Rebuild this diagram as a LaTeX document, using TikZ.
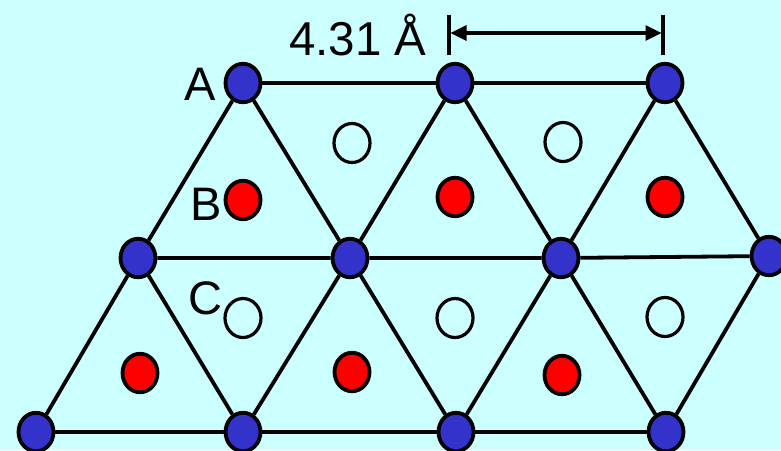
\documentclass[tikz,border=0pt]{standalone}
\usepackage{fontspec}
\setmainfont{Liberation Sans}
\usetikzlibrary{shapes.geometric,arrows.meta}
\definecolor{bgcyan}{RGB}{204,255,255}
\definecolor{atomblue}{RGB}{51,51,204}
\definecolor{atomred}{RGB}{255,0,0}
\begin{document}
\begin{tikzpicture}[x=1pt,y=-1pt,
  atomA/.style={ellipse,draw=black,line width=3.8pt,fill=atomblue,minimum width=35pt,minimum height=38.5pt,inner sep=0pt},
  atomB/.style={ellipse,draw=black,line width=3.8pt,fill=atomred,minimum width=35pt,minimum height=38.5pt,inner sep=0pt},
  atomC/.style={ellipse,draw=black,line width=3.2pt,minimum width=36pt,minimum height=39pt,inner sep=0pt},
  bond/.style={line width=3.8pt,black},
  lbl/.style={font=\fontsize{47}{50}\selectfont,inner sep=0pt,anchor=base}]
\fill[bgcyan] (0,0) rectangle (781,450);
\useasboundingbox (0,0) rectangle (781,450);
% A-sites (blue)
\node[atomA] (t1) at (243,83) {};
\node[atomA] (t2) at (455,83) {};
\node[atomA] (t3) at (665,83) {};
\node[atomA] (m1) at (138,258) {};
\node[atomA] (m2) at (350,258) {};
\node[atomA] (m3) at (561,258) {};
\node[atomA] (m4) at (769,256) {};
\node[atomA] (b1) at (36,432) {};
\node[atomA] (b2) at (243,432) {};
\node[atomA] (b3) at (456,432) {};
\node[atomA] (b4) at (666,432) {};
% B-sites (red)
\node[atomB] (r1) at (243,200) {};
\node[atomB] (r2) at (455,197) {};
\node[atomB] (r3) at (665,197) {};
\node[atomB] (r4) at (140,373) {};
\node[atomB] (r5) at (352,372) {};
\node[atomB] (r6) at (562,375) {};
% C-sites (open)
\node[atomC] (o1) at (352,143) {};
\node[atomC] (o2) at (563,142) {};
\node[atomC] (o3) at (243,318) {};
\node[atomC] (o4) at (455,318) {};
\node[atomC] (o5) at (665,317) {};
% bonds
\draw[bond] (t1) -- (t2) (t2) -- (t3);
\draw[bond] (m1) -- (m2) (m2) -- (m3) (m3) -- (m4);
\draw[bond] (b1) -- (b2) (b2) -- (b3) (b3) -- (b4);
\draw[bond] (b1) -- (m1) (m1) -- (t1);
\draw[bond] (m1) -- (b2);
\draw[bond] (t1) -- (m2) (m2) -- (b3);
\draw[bond] (b2) -- (m2) (m2) -- (t2);
\draw[bond] (t2) -- (m3) (m3) -- (b4);
\draw[bond] (b3) -- (m3) (m3) -- (t3);
\draw[bond] (t3) -- (m4) (m4) -- (b4);
% labels
\node[lbl] (la) at (200,100) {A};
\node[lbl] (lb) at (206,220) {B};
\node[lbl] (lc) at (205,314) {C};
\node[font=\fontsize{47.5}{50}\selectfont,inner sep=0pt,anchor=base west] (dist) at (289,55) {4.31 Å};
% dimension
\coordinate (d1t) at (449,15);
\coordinate (d1b) at (449,55);
\coordinate (d2t) at (663,15);
\coordinate (d2b) at (663,55);
\coordinate (d1) at (450.5,33);
\coordinate (d2) at (661.5,33);
\draw[line width=3.2pt] (d1t) -- (d1b);
\draw[line width=3.2pt] (d2t) -- (d2b);
\draw[line width=3.2pt,{Triangle[length=16pt,width=15pt]}-{Triangle[length=16pt,width=15pt]}] (d1) -- (d2);
\end{tikzpicture}
\end{document}
